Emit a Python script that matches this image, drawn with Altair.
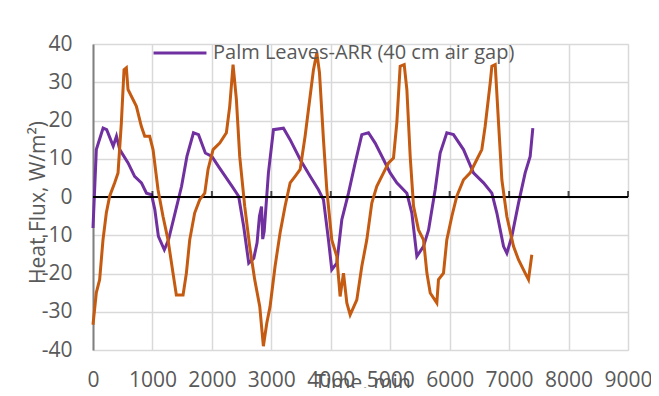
import altair as alt
import pandas as pd

# Purple series: Palm Leaves-ARR (40 cm air gap)
purple_t = [0, 56, 170, 230, 340, 395, 450, 590, 700, 815, 900, 985, 1040, 1100, 1200, 1270,
            1380, 1490, 1580, 1690, 1775, 1890, 2000, 2110, 2225, 2340, 2450, 2535, 2620, 2705,
            2760, 2800, 2835, 2855, 2880, 2951, 3036, 3204, 3316, 3485, 3653, 3793, 3877, 3961,
            4017, 4101, 4186, 4298, 4410, 4522, 4634, 4747, 4887, 4999, 5111, 5280, 5364, 5448,
            5560, 5645, 5756, 5840, 5952, 6064, 6233, 6400, 6570, 6710, 6794, 6906, 6962, 7046,
            7158, 7270, 7354, 7399]
purple_y = [-8.1, 12.4, 18, 17.6, 13.3, 15.9, 12.4, 8.9, 5.4, 3.7, 1, 0.6, -3.3, -10.3, -13.8, -11.2,
            -4.2, 2.8, 10.6, 16.8, 16.3, 11.5, 10.6, 8, 5.4, 2.8, 0.2, -7.7, -17.3, -16,
            -12, -5, -2.5, -11, -9, 6.3, 17.6, 18, 15, 9.8, 5.4, 1.9, -0.7, -11.2,
            -19, -17.3, -5.9, 1, 8.9, 16.3, 16.8, 14.1, 9.8, 6.3, 3.7, 1, -4.2, -15.5,
            -12.9, -8.6, 1.9, 11.5, 16.8, 16.3, 12.4, 6.3, 3.7, 1, -4.2, -12.9, -14.7, -10.3,
            -1.6, 6.3, 10.6, 18]

# Orange series (not in legend)
orange_t = [0, 56, 112, 168, 224, 280, 365, 421, 477, 522,
            561, 589, 673, 730, 813, 870, 953, 1010, 1094, 1178,
            1262, 1346, 1402, 1515, 1571, 1627, 1710, 1795, 1880, 1935,
            2020, 2132, 2244, 2300, 2356, 2412, 2468, 2552, 2636, 2720,
            2805, 2866, 2923, 2979, 3063, 3147, 3231, 3316, 3400, 3485,
            3568, 3653, 3709, 3765, 3810, 3877, 3933, 4017, 4101, 4157,
            4214, 4270, 4326, 4438, 4522, 4606, 4690, 4774, 4887, 4971,
            5055, 5111, 5167, 5235, 5280, 5336, 5392, 5476, 5560, 5617,
            5673, 5784, 5812, 5896, 5952, 6036, 6120, 6233, 6345, 6457,
            6541, 6597, 6682, 6710, 6766, 6822, 6878, 6962, 7074, 7158,
            7270, 7326, 7382]
orange_y = [-33.4, -25, -21.6, -11.2, -4.2, 0.2, 3.7, 6.3, 19.4, 33.3,
            33.8, 28.1, 25.5, 23.7, 18.5, 15.9, 15.9, 12.4, 1.9, -5.1,
            -11.2, -19.9, -25.6, -25.6, -19.9, -11.2, -4.2, -0.7, 1, 7.2,
            12.4, 14.1, 16.8, 23.7, 34.6, 25.5, 10.6, -2.4, -12.9, -21.6,
            -28.6, -39, -33, -28.6, -18.1, -9.4, -2.4, 3.7, 5.4, 7.2,
            15.9, 26.4, 33.3, 37.7, 32.5, 15, 1.9, -11.2, -15.5, -26,
            -19.9, -27.7, -30.8, -26.9, -18.1, -11.2, -1.6, 2.8, 6.3, 8.9,
            10.2, 19.4, 34.2, 34.6, 28.1, 10.6, -2.4, -8.6, -11.2, -19.9,
            -25.1, -27.7, -21.6, -19.9, -11.2, -5.1, 0.2, 4.5, 6.3, 9.8,
            12.4, 18.5, 29.8, 34.2, 34.6, 19.4, 4.5, -5.1, -12.9, -16.4,
            -19.9, -21.6, -15.1]

x_ticks = [0, 1000, 2000, 3000, 4000, 5000, 6000, 7000, 8000, 9000]
y_ticks = [-40, -30, -20, -10, 0, 10, 20, 30, 40]
zero_ticks = [1000, 2000, 3000, 4000, 5000, 6000, 7000, 8000, 9000]

series_name = "Palm Leaves-ARR (40 cm air gap)"
FONT = "Open Sans"
TXT = "#595959"

pdf = pd.DataFrame({"t": purple_t, "v": purple_y, "s": series_name})
odf = pd.DataFrame({"t": orange_t, "v": orange_y})
zdf = pd.DataFrame({"v": [0]})
tdf = pd.DataFrame({"t": zero_ticks, "v": [0] * len(zero_ticks)})

xscale = alt.Scale(domain=[0, 9000], nice=False, zero=False)
yscale = alt.Scale(domain=[-40, 40], nice=False)

xaxis = alt.Axis(values=x_ticks, grid=True, gridColor="#D9D9D9", gridWidth=1.5,
                 domain=False, ticks=False, tickSize=0, labelFont=FONT, labelFontSize=21,
                 labelColor=TXT, labelBaseline="middle", labelPadding=30, labelFlush=False,
                 labelOverlap=False, labelExpr="datum.value",
                 title="Time, min", titleFont=FONT, titleFontSize=21, titleFontWeight="normal",
                 titleColor=TXT, titleX=269, titleY=33, titleBaseline="middle", titleAlign="center")
yaxis = alt.Axis(values=y_ticks, grid=True, gridColor="#D9D9D9", gridWidth=1.5,
                 domain=True, domainColor="#808080", domainWidth=2, ticks=False, tickSize=0,
                 labelFont=FONT, labelFontSize=21, labelColor=TXT, labelPadding=21,
                 labelOverlap=False, labelFlush=False, labelExpr="datum.value",
                 title="Heat Flux, W/m²)", titleFont=FONT, titleFontSize=21,
                 titleFontWeight="normal", titleColor=TXT, titleX=-55, titleY=158,
                 titleBaseline="middle", titleAlign="center", titleAngle=270)

X = alt.X("t:Q", scale=xscale, axis=xaxis)
Y = alt.Y("v:Q", scale=yscale, axis=yaxis)

purple = alt.Chart(pdf).mark_line(strokeWidth=3).encode(
    x=X, y=Y,
    color=alt.Color("s:N", scale=alt.Scale(domain=[series_name], range=["#7030A0"]),
                    legend=alt.Legend(title=None, orient="none", legendX=59, legendY=-19,
                                      symbolType="stroke", symbolStrokeWidth=3,
                                      symbolSize=2800, labelFont=FONT, labelFontSize=20,
                                      labelColor=TXT, labelOffset=5, padding=0,
                                      labelLimit=0)))
zero_line = alt.Chart(zdf).mark_rule(color="black", strokeWidth=2).encode(y=Y)
zero_ticks_mark = alt.Chart(tdf).mark_tick(color="black", orient="vertical", size=6,
                                           thickness=2, yOffset=-3).encode(x=X, y=Y)
orange = alt.Chart(odf).mark_line(strokeWidth=3, color="#C55A11").encode(x=X, y=Y)

chart = alt.layer(purple, zero_line, zero_ticks_mark, orange).properties(
    width=535, height=306,
    autosize=alt.AutoSizeParams(type="none"),
    padding={"left": 85, "top": 36, "right": 23, "bottom": 38},
).configure_view(stroke=None).configure(background="white")

chart.save("out.html", embed_options={"renderer": "svg", "actions": False})
